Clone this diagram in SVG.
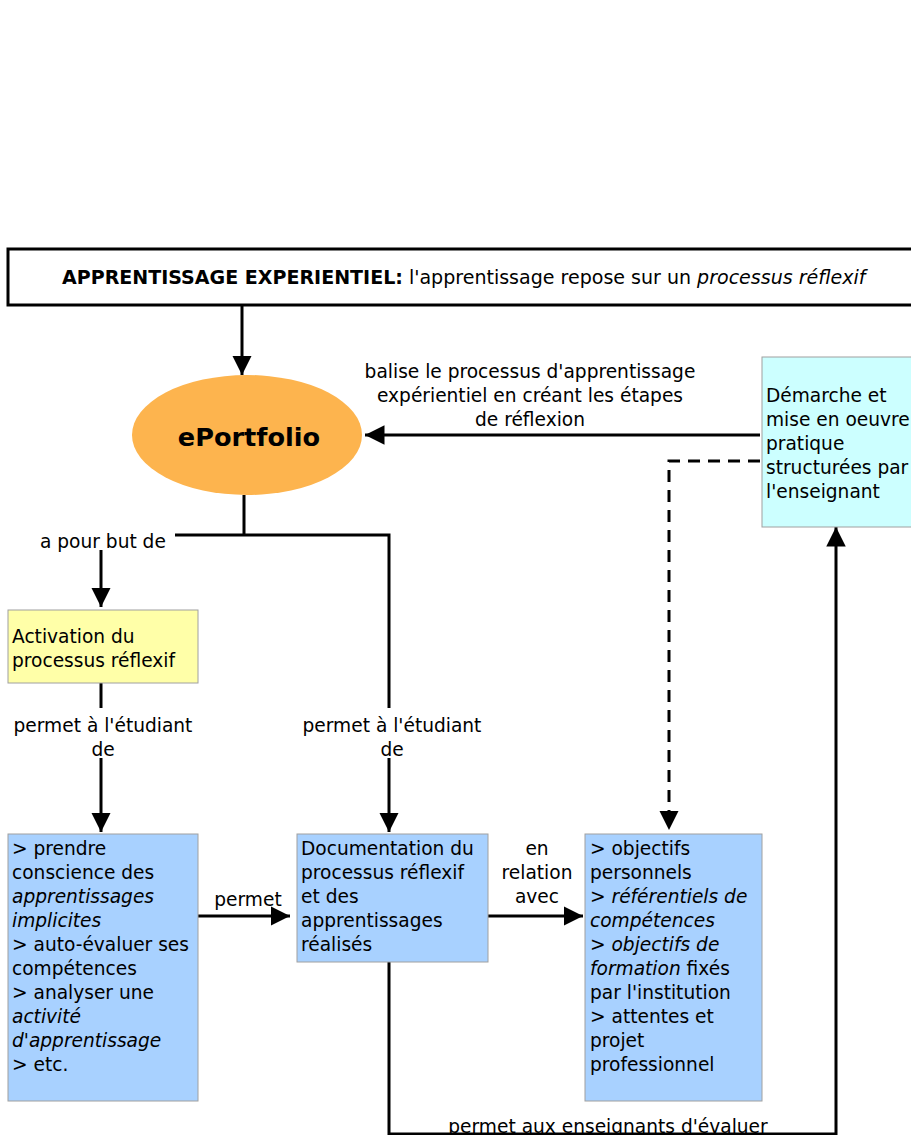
<svg xmlns="http://www.w3.org/2000/svg" width="911" height="1135" viewBox="0 0 911 1135">
<defs>
<style>
text{font-family:"DejaVu Sans","Verdana",sans-serif;font-size:18.6px;fill:#000}
.c{text-anchor:middle}
.i{font-style:italic}
.b{font-weight:bold}
.ln{fill:none;stroke:#000;stroke-width:3}
.dash{fill:none;stroke:#000;stroke-width:3;stroke-dasharray:12 8}
.box{stroke:#a0a0a0;stroke-width:1}
</style>
<marker id="ah" viewBox="0 0 10 10" refX="10" refY="5" markerWidth="6.5" markerHeight="6.5" markerUnits="strokeWidth" orient="auto"><path d="M0,0 L10,5 L0,10 z" fill="#000"/></marker>
</defs>
<rect width="911" height="1135" fill="#fff"/>

<g id="connectors">
<path class="ln" d="M242,305 V375" marker-end="url(#ah)"/>
<path class="ln" d="M760,435 H365" marker-end="url(#ah)"/>
<path class="dash" d="M760,461 H669 V830" marker-end="url(#ah)"/>
<path class="ln" d="M244,495 V535 M175,535 H389 V708"/>
<path class="ln" d="M389,758 V832" marker-end="url(#ah)"/>
<path class="ln" d="M101,550 V607" marker-end="url(#ah)"/>
<path class="ln" d="M101,680 V708"/>
<path class="ln" d="M101,758 V832" marker-end="url(#ah)"/>
<path class="ln" d="M198,916 H290" marker-end="url(#ah)"/>
<path class="ln" d="M488,916 H583" marker-end="url(#ah)"/>
<path class="ln" d="M389,962 V1134 H836 V527" marker-end="url(#ah)"/>
<text class="c" x="530" y="378">balise le processus d'apprentissage</text>
<text class="c" x="530" y="402">expérientiel en créant les étapes</text>
<text class="c" x="530" y="426">de réflexion</text>
<text x="40" y="548">a pour but de</text>
<text class="c" x="103" y="732">permet à l'étudiant</text>
<text class="c" x="103" y="756">de</text>
<text class="c" x="392" y="732">permet à l'étudiant</text>
<text class="c" x="392" y="756">de</text>
<text class="c" x="248" y="906">permet</text>
<text class="c" x="537" y="855">en</text>
<text class="c" x="537" y="879">relation</text>
<text class="c" x="537" y="903">avec</text>
<text class="c" x="608" y="1133">permet aux enseignants d'évaluer</text>
</g>

<g id="title">
<rect x="8" y="249" width="910" height="56" fill="#fff" stroke="#000" stroke-width="3"/>
<text x="62" y="284" style="font-size:19.05px"><tspan class="b">APPRENTISSAGE EXPERIENTIEL:</tspan> l'apprentissage repose sur un <tspan class="i">processus réflexif</tspan></text>
</g>

<g id="eportfolio">
<ellipse cx="247" cy="435" rx="115" ry="60" fill="#FDB44E"/>
<text class="c b" x="249" y="446" style="font-size:25.6px">ePortfolio</text>
</g>

<g id="demarche">
<rect class="box" x="762" y="357" width="160" height="170" fill="#CCFFFF"/>
<text x="766" y="402">Démarche et</text>
<text x="766" y="426">mise en oeuvre</text>
<text x="766" y="450">pratique</text>
<text x="766" y="474">structurées par</text>
<text x="766" y="498">l'enseignant</text>
</g>

<g id="activation">
<rect class="box" x="8" y="610" width="190" height="73" fill="#FFFFA8"/>
<text x="12" y="643">Activation du</text>
<text x="12" y="667">processus réflexif</text>
</g>

<g id="prendre">
<rect class="box" x="8" y="834" width="190" height="267" fill="#A8D1FF"/>
<text x="12" y="855">&gt; prendre</text>
<text x="12" y="879">conscience des</text>
<text class="i" x="12" y="903">apprentissages</text>
<text class="i" x="12" y="927">implicites</text>
<text x="12" y="951">&gt; auto-évaluer ses</text>
<text x="12" y="975">compétences</text>
<text x="12" y="999">&gt; analyser une</text>
<text class="i" x="12" y="1023">activité</text>
<text class="i" x="12" y="1047">d'apprentissage</text>
<text x="12" y="1071">&gt; etc.</text>
</g>

<g id="documentation">
<rect class="box" x="297" y="834" width="191" height="128" fill="#A8D1FF"/>
<text x="301" y="855">Documentation du</text>
<text x="301" y="879">processus réflexif</text>
<text x="301" y="903">et des</text>
<text x="301" y="927">apprentissages</text>
<text x="301" y="951">réalisés</text>
</g>

<g id="objectifs">
<rect class="box" x="585" y="834" width="177" height="267" fill="#A8D1FF"/>
<text x="590" y="855">&gt; objectifs</text>
<text x="590" y="879">personnels</text>
<text class="i" x="590" y="903">&gt; référentiels de</text>
<text class="i" x="590" y="927">compétences</text>
<text class="i" x="590" y="951">&gt; objectifs de</text>
<text x="590" y="975"><tspan class="i">formation</tspan> fixés</text>
<text x="590" y="999">par l'institution</text>
<text x="590" y="1023">&gt; attentes et</text>
<text x="590" y="1047">projet</text>
<text x="590" y="1071">professionnel</text>
</g>
</svg>
